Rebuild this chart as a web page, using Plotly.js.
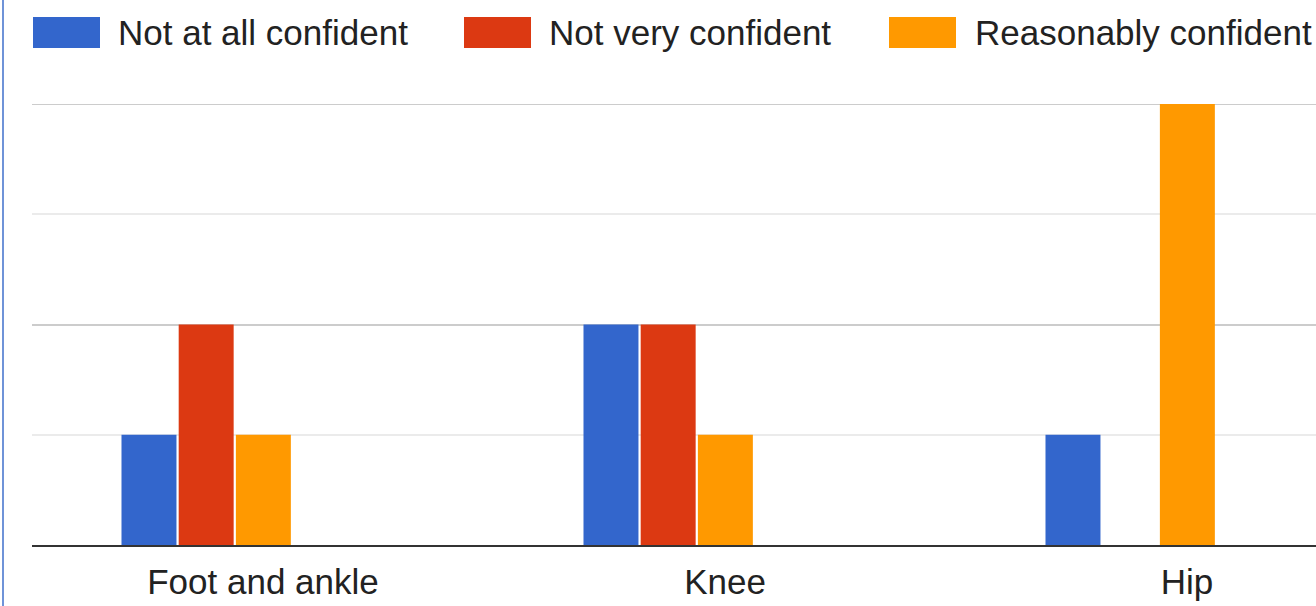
<!DOCTYPE html>
<html>
<head>
<meta charset="utf-8">
<script src="https://cdn.plot.ly/plotly-3.0.1.min.js"></script>
<style>
html,body{margin:0;padding:0;background:#fff;overflow:hidden;}
#chart{width:1316px;height:606px;}
</style>
</head>
<body>
<div id="chart"></div>
<script>
// ---- data ----
var categories = ["Foot and ankle", "Knee", "Hip"];
var seriesNames = ["Not at all confident", "Not very confident", "Reasonably confident"];
var notAtAll = [1, 2, 1];
var notVery = [2, 2, 0];
var reasonably = [1, 1, 4];
var seriesColors = ["#3366cc", "#dc3912", "#ff9900"];

// ---- layout helpers ----
var W = 1316, H = 606, ML = 32, MR = 0, MT = 104, MB = 61;
var PW = W - ML - MR, PH = H - MT - MB;
function px(x) { return (x - ML) / PW; }
function py(y) { return (H - MB - y) / PH; }

var values = [notAtAll, notVery, reasonably];
var barWidth = 0.119;
var barStep = 0.1238;
var firstOffset = -0.3063;
var yMax = 4;

var traces = values.map(function (v, i) {
  return {
    type: "bar",
    x: categories,
    y: v,
    name: seriesNames[i],
    marker: { color: seriesColors[i], line: { width: 0 } },
    width: barWidth,
    offset: firstOffset + i * barStep,
    showlegend: false,
    hoverinfo: "x+y+name"
  };
});

var fontFam = '"Liberation Sans", Arial, sans-serif';

// custom legend (large swatches as in the reference)
var legendSwatchX = [33, 464, 889];
var legendTextX = [117, 548, 974];
var shapes = [];
var annotations = [];
// top major gridline (at the edge of the range)
shapes.push({
  type: "line", xref: "paper", yref: "y",
  x0: 0, x1: 1, y0: yMax, y1: yMax,
  line: { color: "#cccccc", width: 2 }, layer: "below"
});
for (var i = 0; i < seriesNames.length; i++) {
  shapes.push({
    type: "rect", xref: "paper", yref: "paper",
    x0: px(legendSwatchX[i]), x1: px(legendSwatchX[i] + 67),
    y0: py(48), y1: py(17),
    fillcolor: seriesColors[i], line: { width: 0 }
  });
  annotations.push({
    xref: "paper", yref: "paper",
    x: px(legendTextX[i]), y: py(33),
    xanchor: "left", yanchor: "middle",
    text: seriesNames[i], showarrow: false,
    borderpad: 0,
    font: { family: fontFam, size: 35, color: "#222222" }
  });
}
// left edge border line seen in the reference screenshot
shapes.push({
  type: "line", xref: "paper", yref: "paper",
  x0: px(3), x1: px(3), y0: py(0), y1: py(606),
  line: { color: "#6f93d8", width: 2 }
});

var layout = {
  width: W, height: H,
  margin: { l: ML, r: MR, t: MT, b: MB, pad: 0 },
  paper_bgcolor: "#ffffff",
  plot_bgcolor: "#ffffff",
  barmode: "overlay",
  font: { family: fontFam, size: 35, color: "#222222" },
  xaxis: {
    type: "category",
    categoryorder: "array",
    categoryarray: categories,
    range: [-0.5, -0.5 + PW / 462],
    showgrid: false,
    zeroline: false,
    showline: true,
    linecolor: "#333333",
    linewidth: 2,
    ticks: "",
    tickfont: { family: fontFam, size: 35, color: "#222222" },
    ticklabelstandoff: 5,
    fixedrange: true
  },
  yaxis: {
    range: [0, yMax],
    dtick: 2,
    tick0: 0,
    showticklabels: false,
    ticks: "",
    showgrid: true,
    gridcolor: "#cccccc",
    gridwidth: 2,
    minor: { dtick: 1, showgrid: true, gridcolor: "#ebebeb", gridwidth: 2 },
    zeroline: false,
    showline: false,
    fixedrange: true
  },
  shapes: shapes,
  annotations: annotations,
  showlegend: false
};

Plotly.newPlot("chart", traces, layout, { displayModeBar: false, staticPlot: true });
</script>
</body>
</html>
